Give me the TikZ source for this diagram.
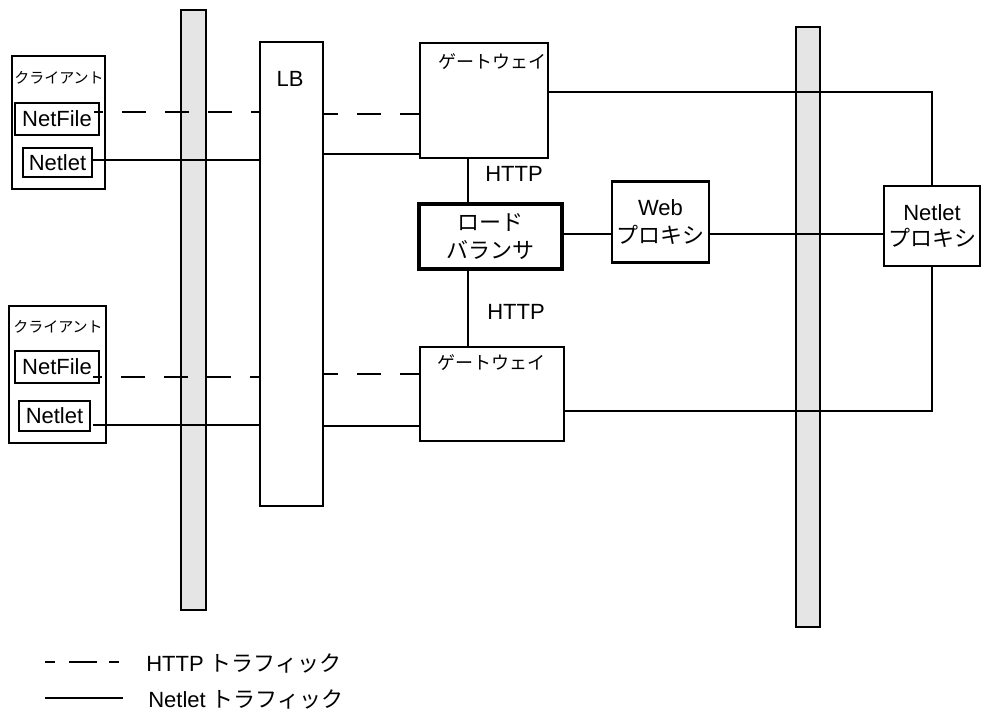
\documentclass[tikz,border=0pt]{standalone}
\usepackage{fontspec}
\setmainfont{Liberation Sans}
\newfontfamily\jpfont{Noto Sans CJK JP}
\usepackage{tikz}
\usetikzlibrary{positioning}

\tikzset{
  wall/.style={draw, line width=1.4pt, fill=black!10, inner sep=0pt},
  unit/.style={draw, line width=2pt, inner sep=0pt},
  host/.style={draw, line width=1.6pt, inner sep=0pt},
  app/.style={draw, line width=1.6pt, inner sep=0pt, align=center, font=\fontsize{16.5}{20}\selectfont},
  tag/.style={inner sep=0pt, font=\fontsize{16.5}{20}\selectfont},
  small/.style={inner sep=0pt, font=\jpfont\fontsize{11.25}{13}\selectfont},
  gwtag/.style={inner sep=0pt, font=\jpfont\fontsize{13.5}{16}\selectfont},
  http/.style={line width=1.5pt, dash pattern=on 18pt off 14.25pt},
  netlet/.style={line width=1.5pt},
  keydash/.style={line width=1.5pt, dash pattern=on 7.5pt off 10.5pt on 21pt off 9pt},
}

\begin{document}
\begin{tikzpicture}[x=0.75pt, y=-0.75pt]
        \useasboundingbox (0,0) rectangle (981,712);
        % firewalls
        \node[wall, minimum width=18.75pt, minimum height=450pt] (fw1) at (193.5,310) {};
        \node[wall, minimum width=18pt, minimum height=450pt] (fw2) at (808,327) {};
%
        % clients
        \node[host, minimum width=69.75pt, minimum height=99.75pt] (c1) at (58.5,122.5) {};
        \node[small] (c1t) at (59,78) {クライアント};
        \node[app, minimum width=63pt, minimum height=24pt] (nf1) at (57,119) {NetFile};
        \node[app, minimum width=51.75pt, minimum height=21.75pt] (nl1) at (57.5,162.5) {Netlet};
        \node[host, minimum width=72.75pt, minimum height=102.75pt] (c2) at (57.5,374.5) {};
        \node[small] (c2t) at (58,327) {クライアント};
        \node[app, minimum width=63pt, minimum height=24pt] (nf2) at (57,367) {NetFile};
        \node[app, minimum width=53.25pt, minimum height=22.5pt] (nl2) at (54.5,416) {Netlet};
%
        % LB and gateways
        \node[unit, minimum width=47.25pt, minimum height=348pt] (lb) at (291.5,274) {};
        \node[tag] (lbt) at (290,79) {LB};
        \node[unit, minimum width=96pt, minimum height=86.25pt] (gw1) at (484,100.5) {};
        \node[gwtag] (gw1t) at (492,62) {ゲートウェイ};
        \node[unit, minimum width=108pt, minimum height=70.5pt] (gw2) at (492,394) {};
        \node[gwtag] (gw2t) at (491,363) {ゲートウェイ};
        \node[unit, line width=2.5pt, minimum width=107.25pt, minimum height=48.75pt, align=center,
              font=\jpfont\fontsize{16.5}{21}\selectfont] (lbal) at (490.5,236.5) {ロード\\バランサ};
        \node[tag] (http1) at (514,174) {HTTP};
        \node[tag] (http2) at (516,312) {HTTP};
%
        % proxies
        \node[app, line width=2pt, minimum width=72.75pt, minimum height=60.75pt,
              font=\fontsize{16.5}{21}\selectfont] (web) at (660.5,222) {Web\\{\jpfont プロキシ}};
        \node[app, line width=2pt, minimum width=72pt, minimum height=60pt,
              font=\fontsize{16.5}{19.5}\selectfont] (np) at (932,226) {Netlet\\{\jpfont プロキシ}};
%
        \coordinate (h1) at (94,112);
        \coordinate (n1) at (92,160);
        \coordinate (h2) at (93,377);
        \coordinate (n2) at (93,425);
        \coordinate (y1) at (0,114);
        \coordinate (y2) at (0,154);
        \coordinate (y3) at (0,374);
        \coordinate (y4) at (0,426);
        \coordinate (ymid) at (0,234);
        \coordinate (xbus) at (468,0);
        \coordinate (ne) at (932,92);
        \coordinate (se) at (932,411);
%
        \draw[http, dash phase=11.25pt] (h1) -- (h1 -| lb.west);
        \draw[netlet] (n1) -- (n1 -| lb.west);
        \draw[http, dash phase=11.25pt] (h2) -- (h2 -| lb.west);
        \draw[netlet] (n2) -- (n2 -| lb.west);
        \draw[http, dash phase=7.5pt] (lb.east |- y1) -- (gw1.west |- y1);
        \draw[netlet, line width=2pt] (lb.east |- y2) -- (gw1.west |- y2);
        \draw[http, dash phase=7.5pt] (lb.east |- y3) -- (gw2.west |- y3);
        \draw[netlet, line width=2pt] (lb.east |- y4) -- (gw2.west |- y4);
        \draw[netlet] (gw1.east |- ne) -- (ne) -- (np.north);
        \draw[netlet, line width=2pt] (gw2.east |- se) -- (se) -- (np.south);
        \draw[netlet] (gw1.south -| xbus) -- (lbal.north -| xbus);
        \draw[netlet] (lbal.south -| xbus) -- (gw2.north -| xbus);
        \draw[netlet] (lbal.east |- ymid) -- (web.west |- ymid);
        \draw[netlet] (web.east |- ymid) -- (np.west |- ymid);
%
        % key
        \node[tag, anchor=west] (key1) at (146,663) {HTTP {\jpfont トラフィック}};
        \node[tag, anchor=west] (key2) at (148,699) {Netlet {\jpfont トラフィック}};
        \coordinate (k1) at (45,662);
        \coordinate (k2) at (45,698);
        \draw[keydash, shorten >=18pt] (k1) -- (k1 -| key1.west);
        \draw[netlet, shorten >=19pt] (k2) -- (k2 -| key2.west);
\end{tikzpicture}
\end{document}
